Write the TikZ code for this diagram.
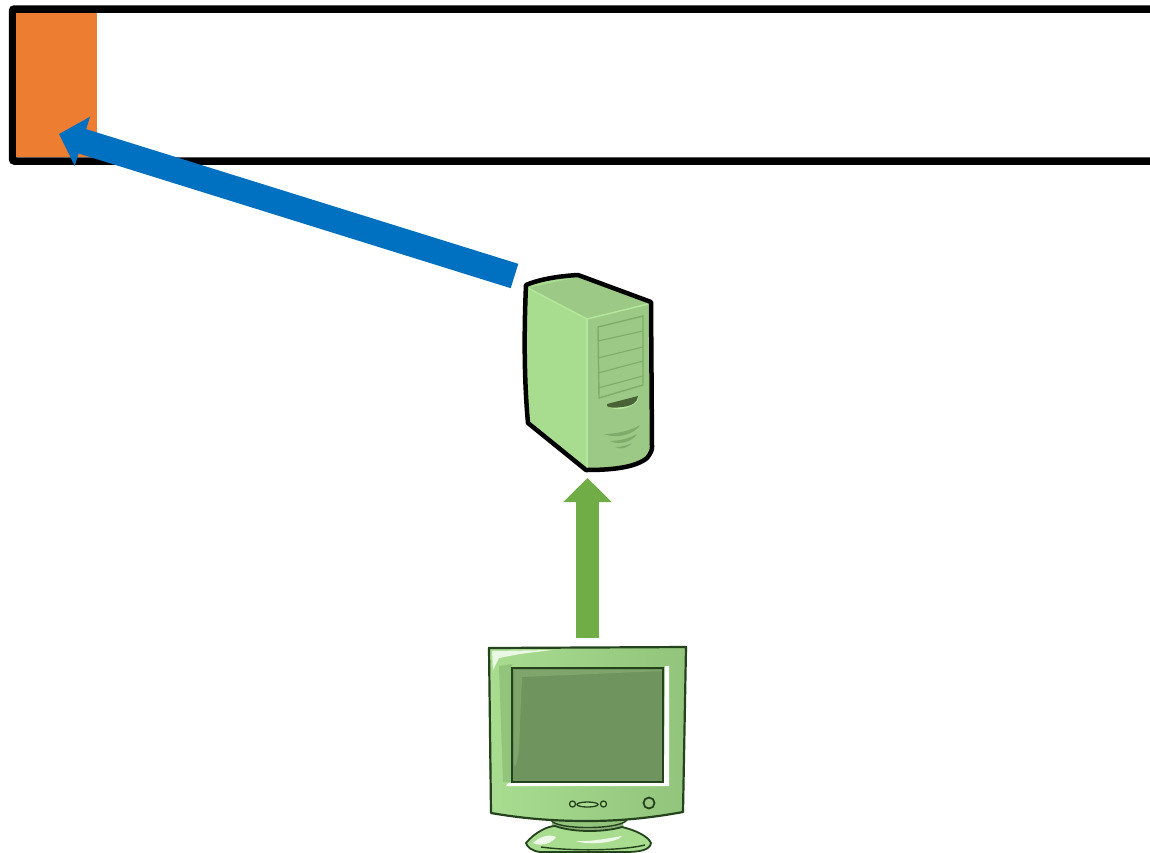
\documentclass[tikz,border=0pt]{standalone}
\usetikzlibrary{arrows.meta}
\definecolor{barorange}{HTML}{ED7D31}
\definecolor{arrowblue}{HTML}{0070C0}
\definecolor{arrowgreen}{HTML}{70AD47}
\definecolor{lightface}{HTML}{A8DD90}
\definecolor{midface}{HTML}{9CC986}
\definecolor{edgelight}{HTML}{B4E79C}
\definecolor{paneline}{HTML}{7FAC6B}
\definecolor{darkslot}{HTML}{4A6336}
\definecolor{screenfill}{HTML}{6F945E}
\definecolor{screentop}{HTML}{7FA56C}
\definecolor{darkline}{HTML}{24421C}
\definecolor{monright}{HTML}{92C47C}
\definecolor{monleft}{HTML}{A8DD90}
\tikzset{
  bluearrow/.style={draw=arrowblue,line width=25.5pt,-{Triangle[length=24.5pt,width=50pt]}},
  greenarrow/.style={draw=arrowgreen,line width=23pt,-{Triangle[length=24pt,width=47pt]}},
  barbox/.style={draw=black,line width=7.5pt,rounded corners=2pt,fill=white},
  orangebox/.style={fill=barorange,draw=none,inner sep=0pt,minimum width=81pt,minimum height=144pt},
  holder/.style={draw=none,inner sep=0pt,fill=none}
}
\begin{document}
\begin{tikzpicture}[x=1pt,y=-1pt]
\useasboundingbox (0,0) rectangle (1150,852);
\fill[white] (0,0) rectangle (1150,852);
% bar
\begin{scope}
\clip (0,0) rectangle (1150,852);
\draw[barbox] (1170,9) -- (12.5,9) -- (12.5,161) -- (1170,161);
\end{scope}
\node[orangebox] (slot) at (56.5,85) {};
% server
\node[holder,minimum width=130pt,minimum height=200pt] (server) at (588,373) {};
\fill[lightface] (526,285) .. controls (524,330) and (524,380) .. (528,423) -- (586,470)
  .. controls (610,470) and (635,468) .. (647,458) .. controls (651,453) and (652,450) .. (652,447)
  -- (651,302) -- (578,275) .. controls (560,276) and (540,279) .. (526,285) -- cycle;
\fill[midface] (528,288) -- (578,277) -- (648,303) -- (587,319) -- cycle;
\fill[midface] (587,319) -- (648,303) -- (650,445) .. controls (648,455) and (640,462) .. (625,466) .. controls (610,469) and (598,470) .. (587,470) -- cycle;
\draw[edgelight,line width=1.5pt] (528,288) -- (587,319) -- (648,304);
\draw[edgelight,line width=1.5pt] (587,319) -- (587,470);
\draw[black,line width=4.5pt,line join=round] (526,285) .. controls (524,330) and (524,380) .. (528,423) -- (586,470)
  .. controls (610,470) and (635,468) .. (647,458) .. controls (651,453) and (652,450) .. (652,447)
  -- (651,302) -- (578,275) .. controls (560,276) and (540,279) .. (526,285) -- cycle;
\draw[paneline,line width=1.4pt,fill=midface] (598,327) -- (643,316) -- (643,385) -- (599,398) -- cycle;
\foreach \a/\b in {341/331,358/347,373/361,388/376}
  \draw[paneline,line width=1.1pt] (598,\a+0) -- (643,\b+0);
\fill[edgelight] (607,406) .. controls (615,412) and (632,409) .. (638,400) -- (638,398) -- (607,404) -- cycle;
\fill[darkslot] (607,404) -- (638,396) .. controls (638,402) and (632,406) .. (622,407) .. controls (615,408) and (609,408) .. (607,406) -- cycle;
\fill[paneline] (604,434) .. controls (618,434) and (632,430) .. (640,425) .. controls (636,433) and (618,440) .. (604,434) -- cycle;
\fill[paneline] (610,441) .. controls (620,441) and (630,438) .. (637,434) .. controls (633,441) and (620,446) .. (610,441) -- cycle;
\fill[paneline] (615,447) .. controls (622,447) and (628,445) .. (632,443) .. controls (628,448) and (621,450) .. (615,447) -- cycle;
% monitor
\node[holder,minimum width=200pt,minimum height=205pt] (monitor) at (587,748) {};
\begin{scope}
\clip (0,0) rectangle (1150,852);
\fill[monright!85!black!90] (553,820) -- (622,820) -- (625,832) -- (550,832) -- cycle;
\draw[darkline,line width=1.4pt,fill=monright] (551,820) .. controls (555,830) and (620,830) .. (627,820);
\draw[darkline,line width=1.8pt,fill=monleft] (526,843) .. controls (535,832) and (548,826) .. (555,826) .. controls (575,833) and (605,832) .. (622,827) .. controls (635,830) and (648,836) .. (651,843) .. controls (650,850) and (640,852) .. (625,852) -- (540,852) .. controls (532,851) and (527,847) .. (526,843) -- cycle;
\draw[darkline,line width=1.4pt] (541,847) .. controls (570,851) and (620,851) .. (645,845);
\fill[white!80!monleft] (533,843) .. controls (540,836) and (550,834) .. (556,837) .. controls (552,843) and (542,847) .. (533,843) -- cycle;
\fill[white!80!monleft] (576,841) .. controls (590,842) and (610,838) .. (622,836) .. controls (618,842) and (590,846) .. (576,841) -- cycle;
\end{scope}
\shade[left color=monleft,right color=monright] (489,648) -- (686,647) -- (683,812) .. controls (650,818) and (620,821) .. (587,821) .. controls (550,821) and (520,818) .. (490,813) -- cycle;
\draw[darkline,line width=2.2pt,line join=round] (491,813) -- (489,648) -- (686,647) -- (683,812) .. controls (650,818) and (620,821) .. (587,821) .. controls (550,821) and (520,818) .. (491,813) -- cycle;
\fill[white!75!monleft] (492,651) -- (552,650) -- (520,654) -- (499,658) -- (493,670) -- cycle;
\fill[monright] (499,666) -- (512,664) -- (512,782) -- (503,782) -- cycle;
\fill[white] (506,786) -- (669,786) -- (669,666) -- (665,666) -- (664,783) -- (508,783) -- cycle;
\draw[darkline,line width=2pt,fill=screenfill] (512,668) -- (663,668) -- (663,782) -- (512,782) -- cycle;
\fill[screentop] (514,670) -- (662,670) -- (662,671) -- (615,673) -- (522,677) -- (519,750) -- (516,765) -- (514,765) -- cycle;
\draw[darkline,line width=1.3pt,fill=monleft] (572.5,804) circle (3pt);
\draw[darkline,line width=1.3pt,fill=monleft] (603.5,804) circle (3pt);
\draw[darkline,line width=1.3pt,fill=monleft] (587.5,804.5) ellipse (10.5pt and 2.5pt);
\draw[darkline,line width=1.8pt,fill=midface] (649,803) circle (5.5pt);
% connectors
\coordinate (serverout) at (514.5,276);
\coordinate (slotin) at (59,134);
\coordinate (monitorout) at (587.5,638);
\coordinate (serverin) at (587.5,478);
\draw[bluearrow] (serverout) -- (slotin);
\draw[greenarrow] (monitorout) -- (serverin);
\end{tikzpicture}
\end{document}
